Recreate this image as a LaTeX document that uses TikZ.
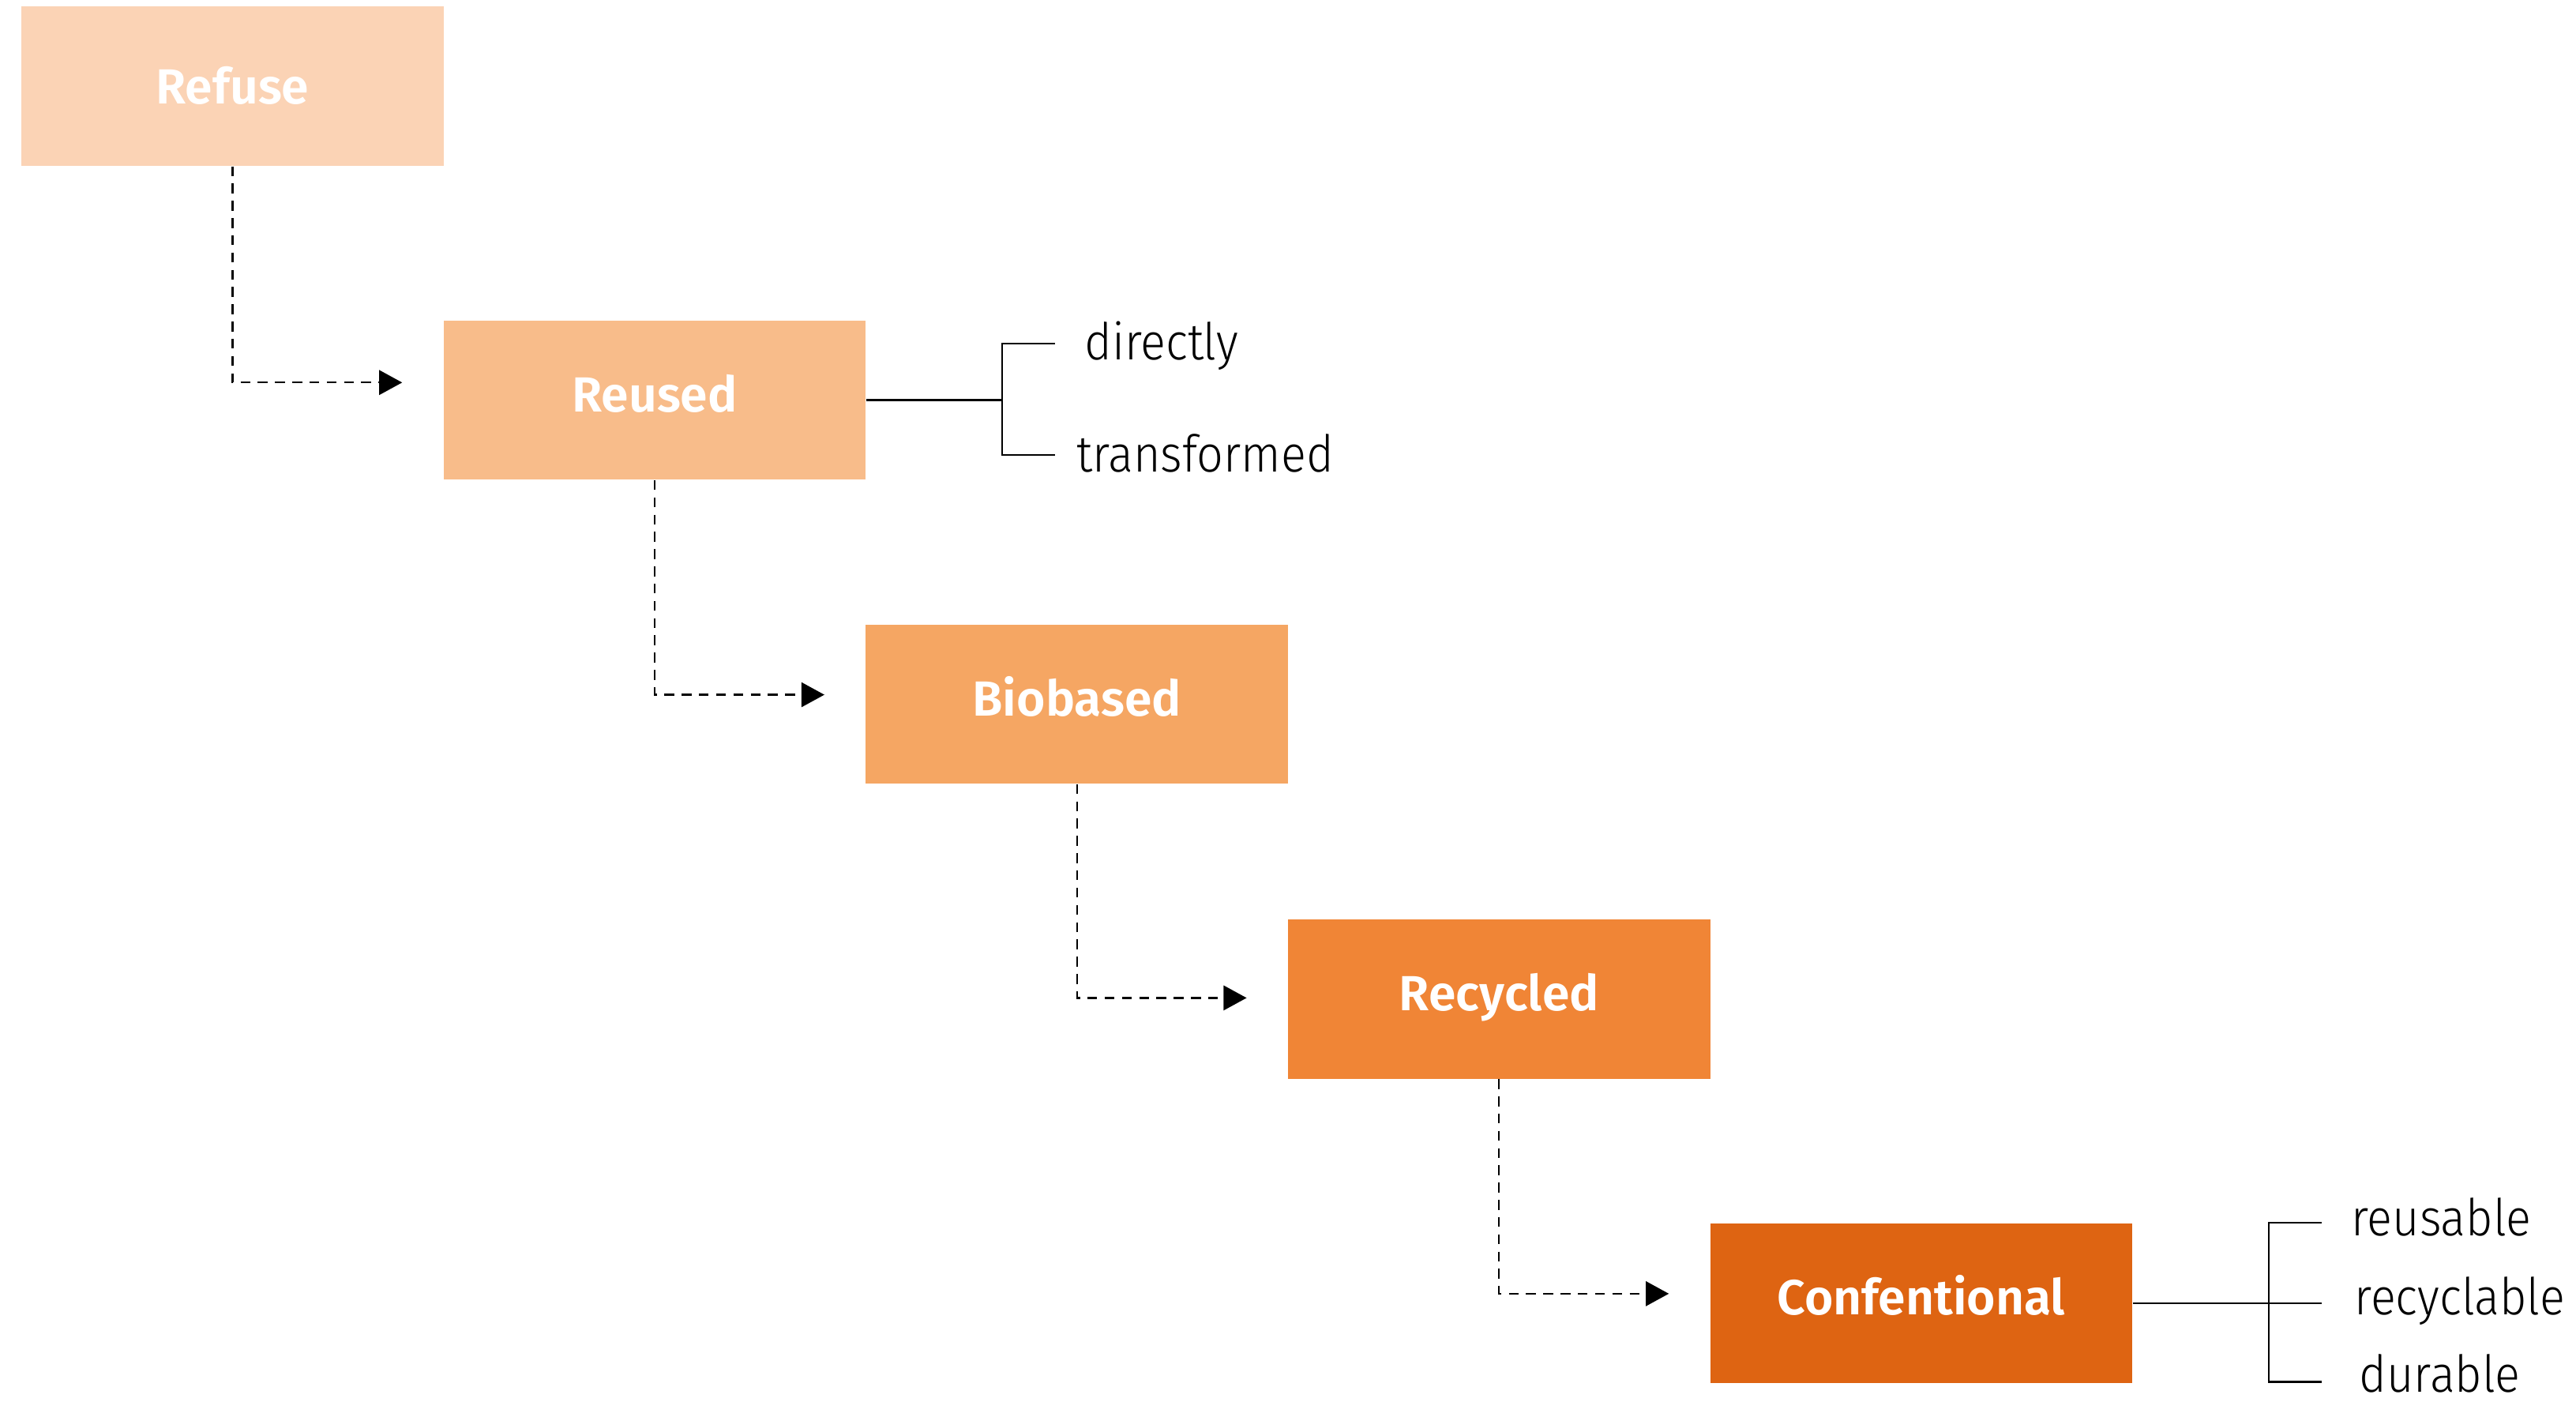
\documentclass[tikz,border=0pt]{standalone}
\usepackage{fontspec}
\setmainfont{Fira Sans}
\newfontfamily\lightfont[FakeStretch=0.92]{Fira Sans Light}
\newfontfamily\semifont{Fira Sans SemiBold}
\usetikzlibrary{arrows.meta,calc}
\definecolor{cA}{RGB}{251,211,181}
\definecolor{cB}{RGB}{248,188,138}
\definecolor{cC}{RGB}{245,166,99}
\definecolor{cD}{RGB}{240,133,54}
\definecolor{cE}{RGB}{222,100,18}
\newcommand{\uptext}[1]{\raisebox{3.5pt}{#1}}
\begin{document}
\begin{tikzpicture}[x=1pt,y=-1pt,
  box/.style={rectangle, minimum width=257pt, minimum height=97pt, inner sep=0pt, text=white,
    font=\semifont\fontsize{30}{30}\selectfont, text height=21pt, text depth=0pt},
  flow/.style={draw=black, line width=1.1pt, dash pattern=on 6pt off 4.5pt,
    -{Triangle[length=14pt,width=15pt]}, shorten >=25pt},
  branch/.style={draw=black, line width=1.1pt},
  lbl/.style={anchor=base west, inner sep=0pt, font=\lightfont\fontsize{31}{31}\selectfont, text=black}]
\useasboundingbox (0,0) rectangle (1568,853);
\fill[white] (0,0) rectangle (1568,853);

\node[box, fill=cA] (refuse) at (141.5,52.5) {Refuse};
\node[box, fill=cB] (reused) at (398.5,243.5) {\uptext{Reused}};
\node[box, fill=cC] (biobased) at (655.5,428.5) {\uptext{Biobased}};
\node[box, fill=cD] (recycled) at (912.5,608) {\uptext{Recycled}};
\node[box, fill=cE] (conf) at (1169.5,793) {\uptext{Confentional}};

\draw[flow] (refuse.south) |- ($(reused.north west)+(0,38)$);
\draw[flow] (reused.south) |- ($(biobased.north west)+(0,43)$);
\draw[flow] (biobased.south) |- ($(recycled.north west)+(0,48)$);
\draw[flow] (recycled.south) |- ($(conf.north west)+(0,43)$);

% Reused branches
\node[lbl] (directly) at (660,219) {directly};
\node[lbl] (transformed) at (655,287) {transformed};
\coordinate (j1) at (610,243.5);
\coordinate (d1) at (642,209);
\coordinate (t1) at (642,277);
\draw[branch] (reused.east) -- (j1);
\draw[branch] (d1) -| (j1) |- (t1);

% Confentional branches
\node[lbl] (reusable) at (1431,752) {reusable};
\node[lbl] (recyclable) at (1433,800) {recyclable};
\node[lbl] (durable) at (1436,847) {durable};
\coordinate (j2) at (1381,793);
\coordinate (r1) at (1413,744);
\coordinate (r2) at (1413,793);
\coordinate (r3) at (1413,841);
\draw[branch] (conf.east) -- (r2);
\draw[branch] (r1) -| (j2) |- (r3);
\end{tikzpicture}
\end{document}
